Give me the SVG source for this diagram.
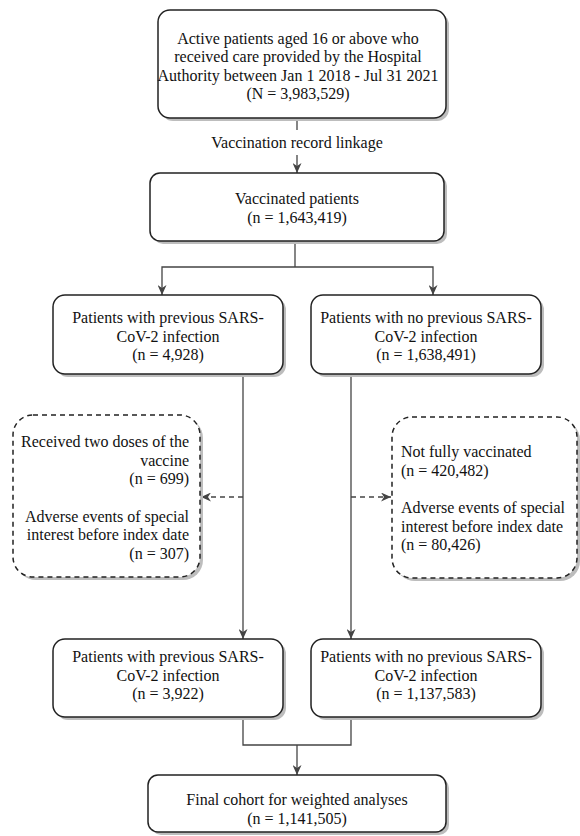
<svg xmlns="http://www.w3.org/2000/svg" width="580" height="836" viewBox="0 0 580 836" font-family="'Liberation Serif', 'Times New Roman', 'DejaVu Serif', serif">
<defs>
<style>
.sh{fill:#bdbdbd}
.box{fill:#fff;stroke:#222;stroke-width:1.5}
.dbox{fill:#fff;stroke:#222;stroke-width:1.5;stroke-dasharray:5 4}
.t{font-family:'Liberation Serif','Times New Roman','DejaVu Serif',serif;font-size:16px;fill:#111}
.c{text-anchor:middle}
.e{text-anchor:end}
.conn{stroke:#444;stroke-width:1.3;fill:none}
.dash{stroke-dasharray:5 4}
</style>
<marker id="ah" markerWidth="10" markerHeight="9" refX="10" refY="4.5" orient="auto" markerUnits="userSpaceOnUse">
<path d="M0,0 L10,4.5 L0,9 L3,4.5 z" fill="#444"/>
</marker>
</defs>
<rect width="580" height="836" fill="#fff"/>

<g id="connectors">
<line class="conn" x1="297" y1="118" x2="297" y2="130"/>
<line class="conn" x1="297" y1="155" x2="297" y2="173" marker-end="url(#ah)"/>
<path class="conn" d="M295,241 V267"/>
<path class="conn" d="M295,267 H162 V295" marker-end="url(#ah)"/>
<path class="conn" d="M295,267 H433 V295" marker-end="url(#ah)"/>
<path class="conn" d="M243,374 V639" marker-end="url(#ah)"/>
<path class="conn" d="M351,374 V639" marker-end="url(#ah)"/>
<path class="conn dash" d="M243,497 H201" marker-end="url(#ah)"/>
<path class="conn dash" d="M351,497 H391" marker-end="url(#ah)"/>
<path class="conn" d="M243,717 V745 H351 V717"/>
<path class="conn" d="M297,745 V775" marker-end="url(#ah)"/>
<text class="t c" x="297" y="148">Vaccination record linkage</text>
</g>

<g id="n-active">
<rect class="sh" x="161" y="13" width="288" height="108" rx="12"/>
<rect class="box" x="158" y="10" width="288" height="108" rx="12"/>
<text class="t c" x="298" y="43.5">Active patients aged 16 or above who</text>
<text class="t c" x="298" y="62">received care provided by the Hospital</text>
<text class="t c" x="298" y="80.5">Authority between Jan 1 2018 - Jul 31 2021</text>
<text class="t c" x="298" y="99">(N = 3,983,529)</text>
</g>

<g id="n-vaccinated">
<rect class="sh" x="153" y="176" width="294" height="68" rx="10"/>
<rect class="box" x="150" y="173" width="294" height="68" rx="10"/>
<text class="t c" x="297" y="204">Vaccinated patients</text>
<text class="t c" x="297" y="223">(n = 1,643,419)</text>
</g>

<g id="n-prev">
<rect class="sh" x="56" y="298" width="230" height="79" rx="12"/>
<rect class="box" x="53" y="295" width="230" height="79" rx="12"/>
<text class="t c" x="168" y="323">Patients with previous SARS-</text>
<text class="t c" x="168" y="341.5">CoV-2 infection</text>
<text class="t c" x="168" y="360">(n = 4,928)</text>
</g>

<g id="n-noprev">
<rect class="sh" x="314" y="298" width="230" height="79" rx="12"/>
<rect class="box" x="311" y="295" width="230" height="79" rx="12"/>
<text class="t c" x="426" y="323">Patients with no previous SARS-</text>
<text class="t c" x="426" y="341.5">CoV-2 infection</text>
<text class="t c" x="426" y="360">(n = 1,638,491)</text>
</g>

<g id="n-excl-left">
<rect class="sh" x="16" y="418" width="187" height="162" rx="20"/>
<rect class="dbox" x="13" y="415" width="187" height="162" rx="20"/>
<text class="t e" x="189" y="447">Received two doses of the</text>
<text class="t e" x="189" y="465.5">vaccine</text>
<text class="t e" x="189" y="484">(n = 699)</text>
<text class="t e" x="189" y="521.5">Adverse events of special</text>
<text class="t e" x="189" y="540">interest before index date</text>
<text class="t e" x="189" y="558.5">(n = 307)</text>
</g>

<g id="n-excl-right">
<rect class="sh" x="395" y="420" width="185" height="161" rx="20"/>
<rect class="dbox" x="392" y="417" width="185" height="161" rx="20"/>
<text class="t" x="401" y="457">Not fully vaccinated</text>
<text class="t" x="401" y="475.5">(n = 420,482)</text>
<text class="t" x="401" y="513">Adverse events of special</text>
<text class="t" x="401" y="531.5">interest before index date</text>
<text class="t" x="401" y="550">(n = 80,426)</text>
</g>

<g id="n-prev2">
<rect class="sh" x="56" y="642" width="230" height="78" rx="12"/>
<rect class="box" x="53" y="639" width="230" height="78" rx="12"/>
<text class="t c" x="168" y="662">Patients with previous SARS-</text>
<text class="t c" x="168" y="680.5">CoV-2 infection</text>
<text class="t c" x="168" y="699">(n = 3,922)</text>
</g>

<g id="n-noprev2">
<rect class="sh" x="314" y="642" width="230" height="78" rx="12"/>
<rect class="box" x="311" y="639" width="230" height="78" rx="12"/>
<text class="t c" x="426" y="662">Patients with no previous SARS-</text>
<text class="t c" x="426" y="680.5">CoV-2 infection</text>
<text class="t c" x="426" y="699">(n = 1,137,583)</text>
</g>

<g id="n-final">
<rect class="sh" x="151" y="778" width="298" height="57" rx="10"/>
<rect class="box" x="148" y="775" width="298" height="57" rx="10"/>
<text class="t c" x="297" y="805">Final cohort for weighted analyses</text>
<text class="t c" x="297" y="823.5">(n = 1,141,505)</text>
</g>
</svg>
